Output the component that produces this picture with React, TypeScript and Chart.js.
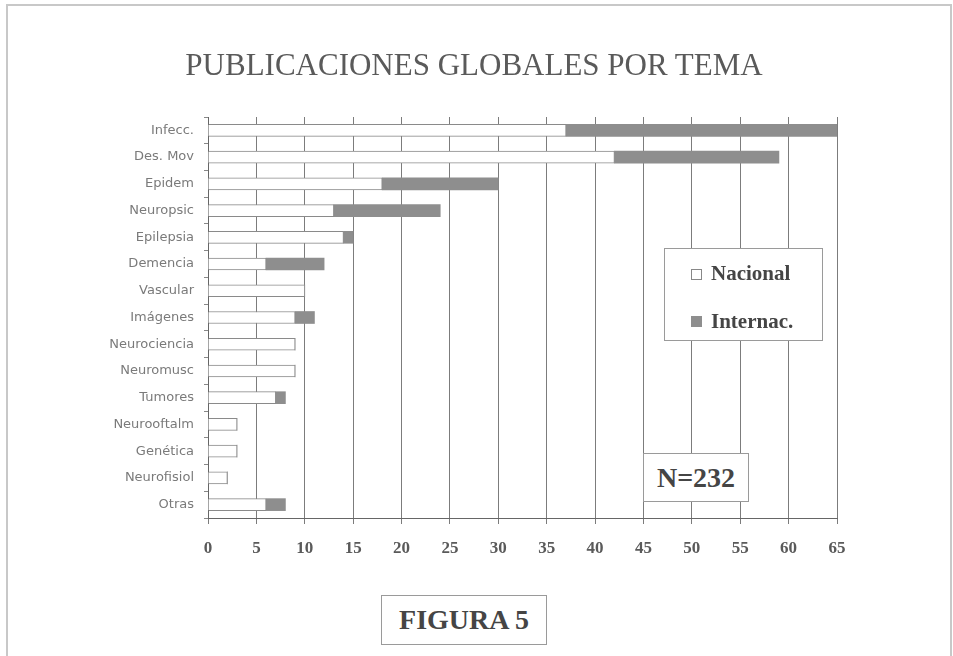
import React, { useEffect, useRef } from "react";
import { Chart, registerables } from "chart.js";

Chart.register(...registerables);

const categories = [
  "Infecc.",
  "Des. Mov",
  "Epidem",
  "Neuropsic",
  "Epilepsia",
  "Demencia",
  "Vascular",
  "Imágenes",
  "Neurociencia",
  "Neuromusc",
  "Tumores",
  "Neurooftalm",
  "Genética",
  "Neurofisiol",
  "Otras",
];
const nacional = [37, 42, 18, 13, 14, 6, 10, 9, 9, 9, 7, 3, 3, 2, 6];
const internac = [28, 17, 12, 11, 1, 6, 0, 2, 0, 0, 1, 0, 0, 0, 2];
const seriesNames = ["Nacional", "Internac."];
const xMin = 0;
const xMax = 65;
const xStep = 5;
const titleText = "PUBLICACIONES GLOBALES POR TEMA";
const nText = "N=232";
const figText = "FIGURA 5";

const W = 953;
const H = 656;

export default function App() {
  const ref = useRef<HTMLCanvasElement | null>(null);

  useEffect(() => {
    if (!ref.current) return;
    const chart = new Chart(ref.current, {
      type: "bar",
      data: {
        labels: categories,
        datasets: [
          {
            label: seriesNames[0],
            data: nacional,
            backgroundColor: "#ffffff",
            borderColor: "#8a8a8a",
            borderWidth: 1,
            barThickness: 12,
          },
          {
            label: seriesNames[1],
            data: internac,
            backgroundColor: "#8e8e8e",
            borderColor: "#8a8a8a",
            borderWidth: 0,
            barThickness: 12,
          },
        ],
      },
      options: {
        indexAxis: "y",
        responsive: false,
        animation: false,
        layout: { padding: { left: 0, right: 116, top: 117, bottom: 88 } },
        plugins: {
          legend: { display: false },
          tooltip: { enabled: false },
          title: { display: false },
        },
        scales: {
          x: {
            type: "linear",
            stacked: true,
            min: xMin,
            max: xMax,
            ticks: {
              stepSize: xStep,
              color: "#5a5a5a",
              padding: 14,
              font: { family: "'Liberation Serif', serif", size: 17, weight: "bold" },
            },
            grid: { color: "#7c7c7c", lineWidth: 1, tickLength: 6, drawTicks: true },
            border: { color: "#666", width: 1 },
            afterFit: (s: any) => {
              s.height = 50;
            },
          },
          y: {
            type: "category",
            stacked: true,
            ticks: {
              color: "#7a7a7a",
              padding: 10,
              font: { family: "'DejaVu Sans', sans-serif", size: 13 },
            },
            grid: { drawOnChartArea: false, drawTicks: true, tickLength: 4, color: "#888", offset: true },
            border: { color: "#666", width: 1 },
            afterFit: (s: any) => {
              s.width = 208;
            },
          },
        },
      },
    });
    return () => chart.destroy();
  }, []);

  const serif = "'Liberation Serif', 'Times New Roman', serif";
  const boxStyle: React.CSSProperties = {
    position: "absolute",
    background: "#fff",
    border: "1px solid #9a9a9a",
    boxSizing: "border-box",
    fontFamily: serif,
    fontWeight: "bold",
    color: "#454545",
  };

  return (
    <div style={{ position: "absolute", left: 0, top: 0, width: W, height: H, background: "#fff", overflow: "hidden" }}>
      <canvas ref={ref} width={W} height={H} style={{ position: "absolute", left: 0, top: 0 }} />
      <div
        style={{
          position: "absolute",
          left: 6,
          top: 4,
          width: 946,
          height: 660,
          border: "2px solid #c8c8c8",
          boxSizing: "border-box",
          pointerEvents: "none",
        }}
      />
      <div
        style={{
          position: "absolute",
          left: 154,
          top: 47,
          width: 640,
          textAlign: "center",
          fontFamily: serif,
          fontSize: 31,
          lineHeight: "36px",
          color: "#5a5a5a",
          whiteSpace: "nowrap",
        }}
      >
        {titleText}
      </div>
      <div style={{ ...boxStyle, left: 664, top: 248, width: 159, height: 93 }}>
        <div style={{ position: "absolute", left: 26, top: 20, width: 11, height: 11, border: "1px solid #888", boxSizing: "border-box", background: "#fff" }} />
        <div style={{ position: "absolute", left: 46, top: 12, fontSize: 21, lineHeight: "24px" }}>{seriesNames[0]}</div>
        <div style={{ position: "absolute", left: 26, top: 67, width: 11, height: 11, background: "#8e8e8e" }} />
        <div style={{ position: "absolute", left: 46, top: 60, fontSize: 21, lineHeight: "24px" }}>{seriesNames[1]}</div>
      </div>
      <div
        style={{
          ...boxStyle,
          left: 643,
          top: 453,
          width: 106,
          height: 49,
          fontSize: 28,
          display: "flex",
          alignItems: "center",
          justifyContent: "center",
        }}
      >
        {nText}
      </div>
      <div
        style={{
          ...boxStyle,
          left: 381,
          top: 595,
          width: 166,
          height: 50,
          fontSize: 28,
          display: "flex",
          alignItems: "center",
          justifyContent: "center",
        }}
      >
        {figText}
      </div>
    </div>
  );
}
